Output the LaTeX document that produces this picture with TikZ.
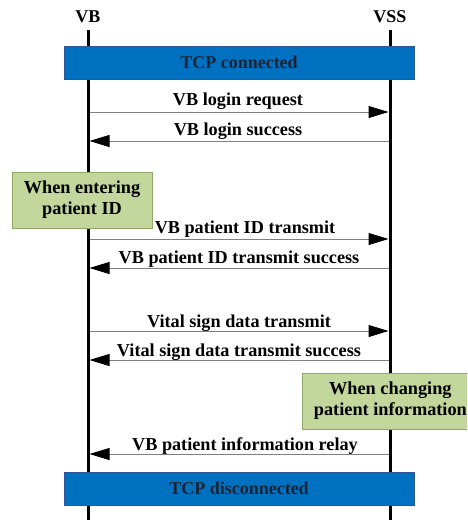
\documentclass[tikz,border=0pt]{standalone}
\usepackage{fontspec}
\setmainfont{Liberation Serif}
\usetikzlibrary{arrows.meta}
\definecolor{tcpblue}{HTML}{0070C0}
\definecolor{tcpborder}{HTML}{2F5597}
\definecolor{tcptext}{HTML}{1A2433}
\definecolor{notegreen}{HTML}{C3D69B}
\definecolor{noteborder}{HTML}{8FA86A}
\definecolor{msggray}{HTML}{808080}
\tikzset{
  lifeline/.style={line width=3pt, black},
  actor/.style={font=\fontsize{18}{20}\selectfont\bfseries},
  tcpbar/.style={draw=tcpborder, fill=tcpblue, line width=0.8pt, minimum width=350pt, minimum height=33pt, inner sep=0pt, font=\fontsize{18}{20}\selectfont\bfseries, text=tcptext},
  note/.style={draw=noteborder, fill=notegreen, line width=0.8pt, inner sep=0pt, align=center, font=\fontsize{18.3}{21}\selectfont\bfseries},
  msg/.style={draw=msggray, line width=1pt, -{Triangle[length=20pt,width=12pt,fill=black,color=black]}},
  msglabel/.style={font=\fontsize{18.2}{20}\selectfont\bfseries, inner sep=0pt}
}
\begin{document}
\begin{tikzpicture}[x=1pt,y=-1pt]
\useasboundingbox (0,0) rectangle (467,520);
\clip (0,0) rectangle (467,520);
% actors
\node[actor] (vb) at (88,17) {VB};
\node[actor] (vss) at (390,17) {VSS};
\coordinate (vbtop) at (88,30);
\coordinate (vbbot) at (88,521);
\coordinate (vsstop) at (390,30);
\coordinate (vssbot) at (390,521);
\draw[lifeline] (vbtop) -- (vbbot);
\draw[lifeline] (vsstop) -- (vssbot);
% TCP bars
\node[tcpbar] (tcpc) at (239,62.5) {TCP connected};
\node[tcpbar] (tcpd) at (239,488.5) {TCP disconnected};
% notes
\node[note, minimum width=140pt, minimum height=56pt] (n1) at (82,200) {When entering\\patient ID};
\node[note, minimum width=176pt, minimum height=56pt, anchor=west] (n2) at (302,401) {When changing\\patient information};
% message endpoints
\foreach \n/\y in {1/112,2/141,3/239,4/268,5/331,6/360,7/454}{
  \coordinate (a\n) at (89.5,\y);
  \coordinate (b\n) at (388.5,\y);
}
\draw[msg] (a1) -- (b1);
\draw[msg] (b2) -- (a2);
\draw[msg] (a3) -- (b3);
\draw[msg] (b4) -- (a4);
\draw[msg] (a5) -- (b5);
\draw[msg] (b6) -- (a6);
\draw[msg] (b7) -- (a7);
% labels
\node[msglabel] (l1) at (238,101.5) {VB login request};
\node[msglabel] (l2) at (238,131.5) {VB login success};
\node[msglabel] (l3) at (245,229.5) {VB patient ID transmit};
\node[msglabel] (l4) at (239,259.5) {VB patient ID transmit success};
\node[msglabel] (l5) at (239,323.5) {Vital sign data transmit};
\node[msglabel] (l6) at (239,352.5) {Vital sign data transmit success};
\node[msglabel] (l7) at (245,446.5) {VB patient information relay};
\end{tikzpicture}
\end{document}
